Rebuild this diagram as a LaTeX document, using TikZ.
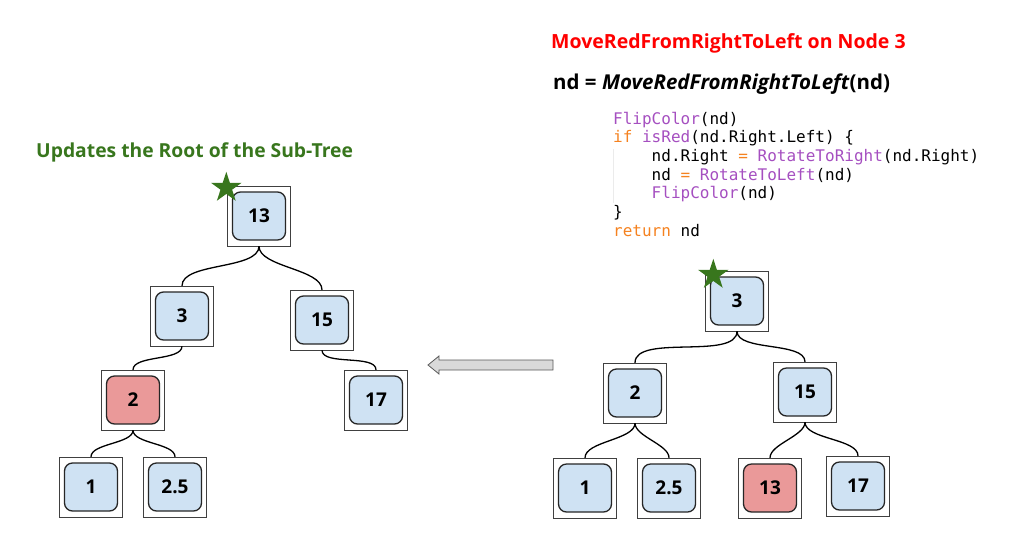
\documentclass[tikz,border=0pt]{standalone}
\usepackage{fontspec}
\setmainfont{Open Sans}
\newfontfamily\codefont{DejaVu Sans Mono}
\usetikzlibrary{shapes.geometric}

\definecolor{nodeblue}{HTML}{CFE2F3}
\definecolor{nodered}{HTML}{EA9999}
\definecolor{stargreen}{HTML}{38761D}
\definecolor{codepurple}{HTML}{A54FC0}
\definecolor{codeorange}{HTML}{F58220}

\tikzset{
  outerbox/.style={draw=black!75,fill=white,minimum width=63pt,minimum height=60pt,inner sep=0pt},
  keybox/.style={draw=black!85,line width=1.3pt,rounded corners=8pt,minimum width=53pt,minimum height=48pt,inner sep=0pt,font=\fontsize{19}{19}\selectfont\bfseries},
  blackkey/.style={keybox,fill=nodeblue},
  redkey/.style={keybox,fill=nodered},
  link/.style={line width=1.3pt,out=-90,in=90,looseness=0.7},
  marker/.style={star,star points=5,star point ratio=2.618,fill=stargreen,minimum size=32pt,inner sep=0pt},
  codeline/.style={anchor=west,inner sep=0pt,font=\codefont\fontsize{16}{16}\selectfont},
  heading/.style={anchor=west,inner sep=0pt,font=\fontsize{19.5}{20}\selectfont\bfseries}
}
\newcommand{\fn}[1]{\textcolor{codepurple}{#1}}
\newcommand{\kw}[1]{\textcolor{codeorange}{#1}}
\newcommand{\ind}{\phantom{xxxx}}

\begin{document}
\begin{tikzpicture}[x=1pt,y=-1pt]
  \useasboundingbox (0,0) rectangle (1016,555);

  % headings
  \node[heading,text=red] (title) at (551,43) {MoveRedFromRightToLeft on Node 3};
  \node[heading,font=\fontsize{20.5}{21}\selectfont\bfseries] (call) at (553,84) {nd = \textit{MoveRedFromRightToLeft}(nd)};
  \node[heading,text=stargreen,font=\fontsize{19.3}{20}\selectfont\bfseries] (caption) at (36,152) {Updates the Root of the Sub-Tree};

  % code
  \draw[black!8,line width=0.8pt] (613,149) -- (613,203);
  \node[codeline] (c1) at (613,120) {\fn{FlipColor}(nd)};
  \node[codeline] (c2) at (613,138.5) {\kw{if} \fn{isRed}(nd.Right.Left) \{};
  \node[codeline] (c3) at (613,157) {\ind nd.Right \kw{=} \fn{RotateToRight}(nd.Right)};
  \node[codeline] (c4) at (613,175) {\ind nd \kw{=} \fn{RotateToLeft}(nd)};
  \node[codeline] (c5) at (613,194) {\ind\fn{FlipColor}(nd)};
  \node[codeline] (c6) at (613,212.5) {\}};
  \node[codeline] (c7) at (613,231) {\kw{return} nd};

  % left tree
  \node[outerbox] (L13) at (259,216) {}; \node[blackkey] (L13k) at (L13) {13};
  \node[outerbox] (L3) at (182,316) {}; \node[blackkey] (L3k) at (L3) {3};
  \node[outerbox] (L15) at (322,320) {}; \node[blackkey] (L15k) at (L15) {15};
  \node[outerbox] (L2) at (133,400) {}; \node[redkey] (L2k) at (L2) {2};
  \node[outerbox] (L17) at (376,400) {}; \node[blackkey] (L17k) at (L17) {17};
  \node[outerbox] (L1) at (91,487) {}; \node[blackkey] (L1k) at (L1) {1};
  \node[outerbox] (L25) at (175,487) {}; \node[blackkey] (L25k) at (L25) {2.5};

  \draw[link] (L13.south) to (L3.north);
  \draw[link] (L13.south) to (L15.north);
  \draw[link] (L3.south) to (L2.north);
  \draw[link] (L15.south) to (L17.north);
  \draw[link] (L2.south) to (L1.north);
  \draw[link] (L2.south) to (L25.north);

  % right tree
  \node[outerbox] (R3) at (737,301) {}; \node[blackkey] (R3k) at (R3) {3};
  \node[outerbox] (R2) at (635,393) {}; \node[blackkey] (R2k) at (R2) {2};
  \node[outerbox] (R15) at (805,392) {}; \node[blackkey] (R15k) at (R15) {15};
  \node[outerbox] (R1) at (585,488) {}; \node[blackkey] (R1k) at (R1) {1};
  \node[outerbox] (R25) at (669,488) {}; \node[blackkey] (R25k) at (R25) {2.5};
  \node[outerbox] (R13) at (770,488) {}; \node[redkey] (R13k) at (R13) {13};
  \node[outerbox] (R17) at (858,486) {}; \node[blackkey] (R17k) at (R17) {17};

  \draw[link] (R3.south) to (R2.north);
  \draw[link] (R3.south) to (R15.north);
  \draw[link] (R2.south) to (R1.north);
  \draw[link] (R2.south) to (R25.north);
  \draw[link] (R15.south) to (R13.north);
  \draw[link] (R15.south) to (R17.north);

  % stars on the sub-tree roots
  \node[marker] (Lstar) at ([shift={(-1pt,-2pt)}]L13.north west) {};
  \node[marker] (Rstar) at ([shift={(8pt,-4pt)}]R3.north west) {};

  % before <- after
  \draw[draw=black!65,fill=black!15,line width=0.8pt]
    (553,360) -- (439,360) -- (439,356) -- (428,365) -- (439,374) -- (439,370) -- (553,370) -- cycle;
\end{tikzpicture}
\end{document}
